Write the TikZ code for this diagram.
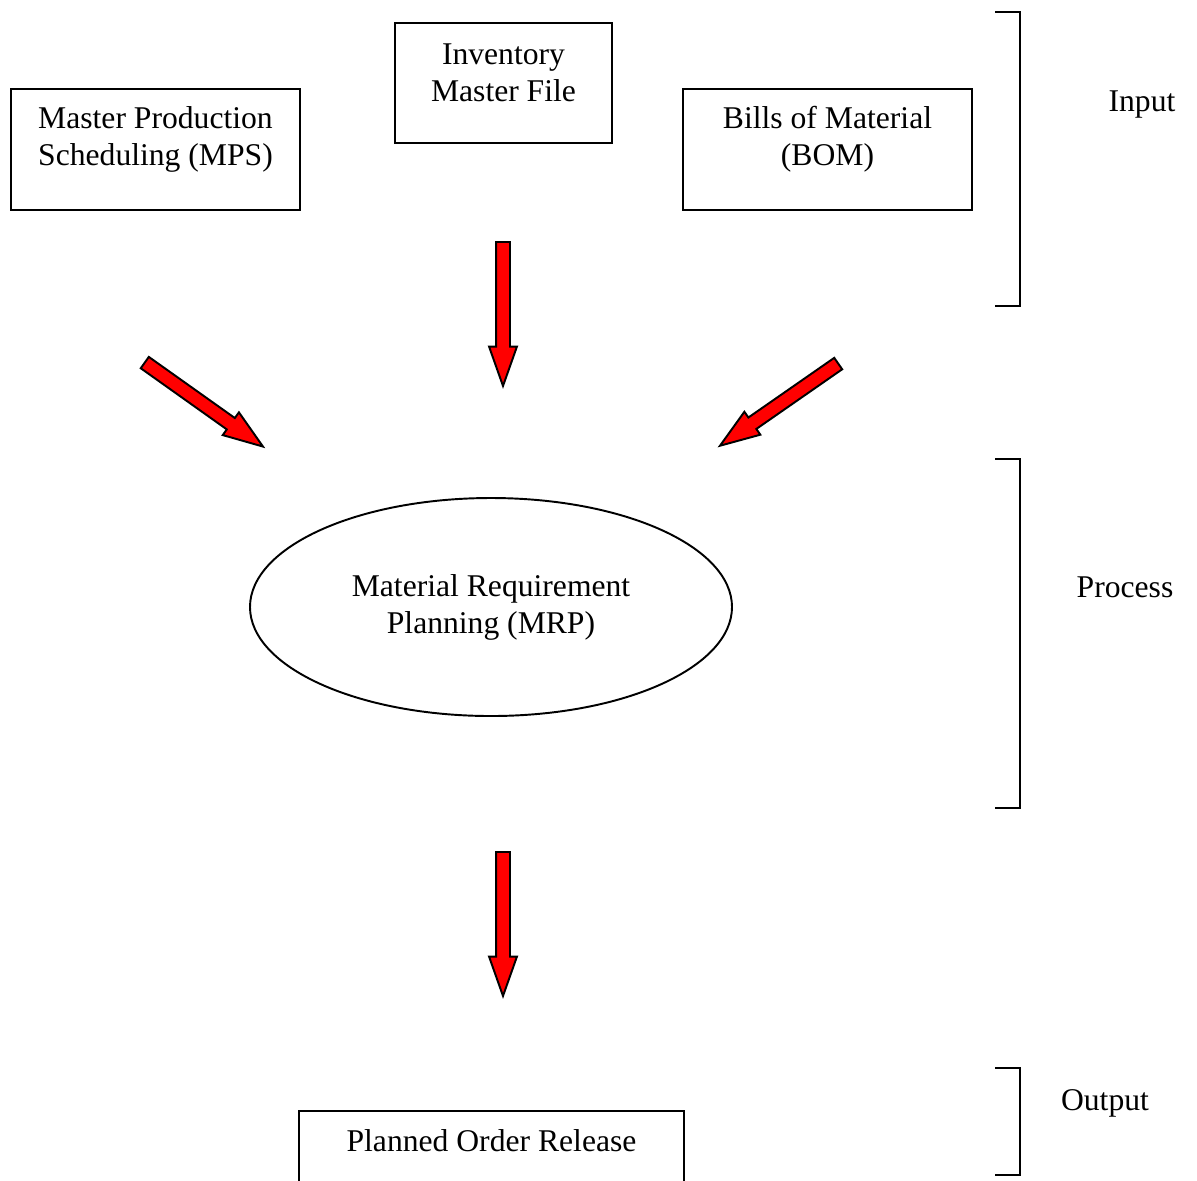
\documentclass[tikz,border=0pt]{standalone}
\usepackage{fontspec}
\setmainfont{Liberation Serif}
\usetikzlibrary{shapes.geometric,shapes.arrows}

\begin{document}
\begin{tikzpicture}[
        every node/.style={font=\fontsize{18}{21}\selectfont},
        box/.style={draw, line width=1.1pt, minimum width=5.78cm, minimum height=2.42cm, inner sep=0},
        txt/.style={align=center, inner sep=0},
        blockarrow/.style={single arrow, draw=black, line width=1.1pt, fill=red,
            inner xsep=0, inner ysep=0.12cm,
            minimum width=0.52cm, minimum height=2.88cm,
            single arrow head extend=0.14cm, single arrow tip angle=39, anchor=tail},
        bracket/.style={line width=1.1pt}
    ]

        \useasboundingbox (0, 0) rectangle (23.94, -23.6);

        % inputs
        \node[box] (mps) at (3.11, -2.99) {};
        \node[txt] (mpsText) at ([yshift=0.2cm]mps.center) {Master Production\\Scheduling (MPS)};
        \node[box, minimum width=4.34cm, minimum height=2.4cm] (inv) at (10.07, -1.66) {};
        \node[txt] (invText) at ([yshift=0.2cm]inv.center) {Inventory\\Master File};
        \node[box] (bom) at (16.55, -2.99) {};
        \node[txt] (bomText) at ([yshift=0.2cm]bom.center) {Bills of Material\\(BOM)};

        % arrows into the process
        \node[blockarrow, rotate=-35.4, minimum height=2.9cm] (arrMps) at (2.88, -7.24) {};
        \node[blockarrow, rotate=-90] (arrInv) at (10.06, -4.82) {};
        \node[blockarrow, rotate=214.8] (arrBom) at (16.78, -7.26) {};

        % process
        \node[draw, line width=1.1pt, ellipse, minimum width=9.64cm, minimum height=4.36cm, align=center] (mrp)
            at (9.82, -12.14) {Material Requirement\\Planning (MRP)};

        \node[blockarrow, rotate=-90] (arrOut) at (10.06, -17.02) {};

        % output
        \node[box, minimum width=7.7cm, minimum height=2.4cm] (por) at (9.83, -23.42) {};
        \node[txt] (porText) at (9.83, -22.82) {Planned Order Release};

        % brackets
        \draw[bracket] (19.9, -0.24) -| (20.4, -6.12) -- (19.9, -6.12);
        \draw[bracket] (19.9, -9.18) -| (20.4, -16.16) -- (19.9, -16.16);
        \draw[bracket] (19.9, -21.36) -| (20.4, -23.5) -- (19.9, -23.5);

        \node[anchor=base] (input) at (22.84, -2.22) {Input};
        \node[anchor=base] (process) at (22.5, -11.94) {Process};
        \node[anchor=base] (output) at (22.1, -22.2) {Output};

\end{tikzpicture}
\end{document}
